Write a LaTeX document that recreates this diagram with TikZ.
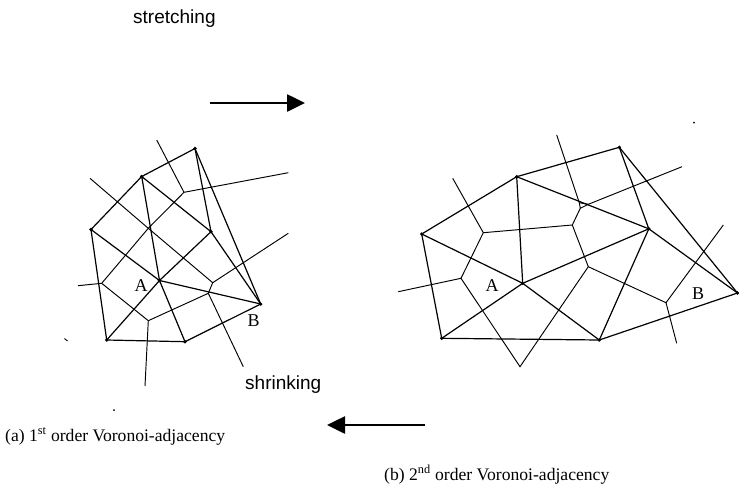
\documentclass[tikz,border=0pt]{standalone}
\usepackage{fontspec}
\setmainfont{Liberation Serif}
\setsansfont{Liberation Sans}
\usepackage{tikz}
\usetikzlibrary{arrows.meta}

\begin{document}
\begin{tikzpicture}[
  x=1pt, y=-1pt,
  dedge/.style={line width=1.2pt, draw=black},
  vedge/.style={line width=0.95pt, draw=black},
  site/.style={circle, fill=black, inner sep=0pt, minimum size=3.6pt},
  speck/.style={circle, fill=black, inner sep=0pt, minimum size=2pt},
  bigarrow/.style={-{Triangle[length=18pt,width=17pt]}, line width=2.6pt},
  word/.style={font=\sffamily\fontsize{19}{22}\selectfont, inner sep=0pt, anchor=base west},
  caption/.style={font=\fontsize{17.6}{21}\selectfont, inner sep=0pt, anchor=base west},
  lbl/.style={font=\fontsize{18}{21}\selectfont, inner sep=0pt},
]
\useasboundingbox (0,0) rectangle (739,488);

% ---- Labels and arrows ----
\node[word] (stretch) at (133,23.5) {stretching};
\node[word] (shrink) at (245,389.3) {shrinking};
\coordinate (st0) at (210,103);
\coordinate (st1) at (305,103);
\coordinate (sh0) at (425,425);
\coordinate (sh1) at (327,425);
\draw[bigarrow] (st0) -- (st1);
\draw[bigarrow] (sh0) -- (sh1);
\node[caption] (capa) at (5,441) {(a) 1\textsuperscript{st} order Voronoi-adjacency};
\node[caption] (capb) at (384,480) {(b) 2\textsuperscript{nd} order Voronoi-adjacency};

% ---- (a) sites ----
\node[site] (p1) at (195,148.5) {};
\node[site] (p2) at (141.7,176.5) {};
\node[site] (p3) at (91,229.5) {};
\node[site] (p4) at (211,231.7) {};
\node[site] (pa) at (159.5,280.5) {};
\node[site] (pb) at (260.7,304) {};
\node[site] (p5) at (106.7,340) {};
\node[site] (p6) at (185,341.7) {};
\node[lbl] (labA) at (141,286) {A};
\node[lbl] (labB) at (253.5,321) {B};

% ---- (a) triangulation ----
\draw[dedge] (p1.center) -- (p2.center) -- (p3.center) -- (p5.center) -- (p6.center) -- (pb.center) -- (p1.center);
\draw[dedge] (p1.center) -- (p4.center) -- (p2.center) -- (pa.center) -- (p6.center);
\draw[dedge] (p3.center) -- (pa.center) -- (p4.center) -- (pb.center) -- (pa.center) -- (p5.center);

% ---- (a) Voronoi edges ----
\coordinate (v1) at (184,192.3);
\coordinate (v2) at (148.3,228.3);
\coordinate (v3) at (101.7,283.3);
\coordinate (v4) at (148.3,320.7);
\coordinate (v5) at (208.3,293.3);
\coordinate (v6) at (212.7,282.7);
\coordinate (e1) at (156.7,140);
\coordinate (e2) at (288.3,172.7);
\coordinate (e3) at (90,178.3);
\coordinate (e4) at (78,285.7);
\coordinate (e5) at (145,386);
\coordinate (e6) at (288.3,233.3);
\coordinate (e7) at (243.3,366.7);
\draw[vedge] (e1) -- (v1) -- (e2);
\draw[vedge] (v1) -- (v2) -- (v3) -- (e4);
\draw[vedge] (e3) -- (v2) -- (v6) -- (e6);
\draw[vedge] (v3) -- (v4) -- (e5);
\draw[vedge] (v4) -- (v5) -- (v6);
\draw[vedge] (v5) -- (e7);

% ---- (b) sites ----
\node[site] (q1) at (619.3,147.3) {};
\node[site] (q2) at (516.7,176.7) {};
\node[site] (q3) at (421.7,234) {};
\node[site] (q4) at (648.8,228.8) {};
\node[site] (qa) at (522.7,283.3) {};
\node[site] (qb) at (737.5,293) {};
\node[site] (q5) at (441.7,338.3) {};
\node[site] (q6) at (599.3,340) {};
\node[lbl] (labA2) at (492,285.5) {A};
\node[lbl] (labB2) at (698,294) {B};

% ---- (b) triangulation ----
\draw[dedge] (q1.center) -- (q2.center) -- (q3.center) -- (q5.center) -- (q6.center) -- (qb.center) -- (q1.center);
\draw[dedge] (q1.center) -- (q4.center) -- (q2.center) -- (qa.center) -- (q3.center);
\draw[dedge] (q5.center) -- (qa.center) -- (q6.center) -- (q4.center) -- (qb.center);
\draw[dedge] (qa.center) -- (q4.center);

% ---- (b) Voronoi edges ----
\coordinate (w1a) at (579.3,202.7);
\coordinate (w1b) at (588.3,204.3);
\coordinate (w1c) at (580.3,208.3);
\coordinate (w2) at (572.3,225);
\coordinate (w3) at (483.3,232.7);
\coordinate (w4) at (461,278.3);
\coordinate (w5) at (588.3,266.7);
\coordinate (w6) at (666,302.7);
\coordinate (f1) at (556.7,135);
\coordinate (f2) at (682,166.7);
\coordinate (f3) at (452.7,178.3);
\coordinate (f4) at (398.3,291.7);
\coordinate (f5) at (520,366.7);
\coordinate (f6) at (723.3,225);
\coordinate (f7) at (676.7,343.3);
\draw[vedge] (f1) -- (w1a) -- (w1b) -- (f2);
\draw[vedge] (w1a) -- (w1c) -- (w1b);
\draw[vedge] (w1c) -- (w2) -- (w3) -- (f3);
\draw[vedge] (w3) -- (w4) -- (f4);
\draw[vedge] (w4) -- (f5) -- (w5) -- (w2);
\draw[vedge] (w5) -- (w6) -- (f6);
\draw[vedge] (w6) -- (f7);

% ---- specks ----
\node[speck] (dot1) at (694,122.7) {};
\node[speck] (dot2) at (114,410) {};
\coordinate (tk0) at (64.5,338.5);
\coordinate (tk1) at (67.5,341);
\draw[line width=0.9pt] (tk0) -- (tk1);

\end{tikzpicture}
\end{document}
